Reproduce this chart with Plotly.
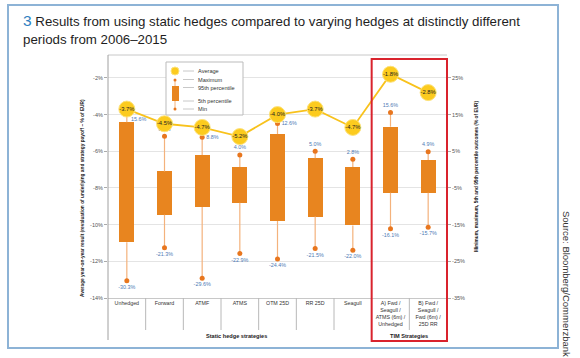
import plotly.graph_objects as go

# ---------------- data ----------------
categories = ["Unhedged", "Forward", "ATMF", "ATMS", "OTM 25D", "RR 25D", "Seagull",
              "A) Fwd /<br>Seagull /<br>ATMS (6m) /<br>Unhedged",
              "B) Fwd /<br>Seagull /<br>Fwd (6m) /<br>25D RR"]
average = [-3.7, -4.5, -4.7, -5.2, -4.0, -3.7, -4.7, -1.8, -2.8]
maximum = [15.6, 9.1, 8.8, 4.0, 12.6, 5.0, 2.8, 15.6, 4.9]
p95 = [12.9, -0.5, 4.0, 0.7, 9.7, 3.1, 0.7, 11.7, 2.6]
p5 = [-19.8, -12.3, -10.2, -9.0, -14.0, -12.8, -15.2, -6.3, -6.3]
minimum = [-30.3, -21.3, -29.6, -22.9, -24.4, -21.5, -22.0, -16.1, -15.7]
left_ticks = [-14, -12, -10, -8, -6, -4, -2]
right_ticks = [-35, -25, -15, -5, 5, 15, 25]
title_lines = ["<span style='color:#2F7FC1;font-size:15.5px'>3</span> Results from using static hedges compared to varying hedges at distinctly different",
               "periods from 2006–2015"]

# ---------------- styles ----------------
FONT = "Liberation Sans, Arial, sans-serif"
ORANGE = "#E8851F"
DOT = "#E8761E"
WHISK = "#F4B27C"
YELLOW = "#FCCB1E"
LABEL = "#4D7AB5"
max_pos = ["bottom right", "top center", "middle right", "top center", "middle right",
           "top center", "top center", "top center", "top center"]

n = len(categories)
xs = list(range(n))

fig = go.Figure()

# 5th-95th percentile boxes
fig.add_trace(go.Bar(
    x=xs, base=p5, y=[a - b for a, b in zip(p95, p5)], width=0.4,
    marker=dict(color=ORANGE, line=dict(width=0)), hoverinfo="skip", showlegend=False,
))

# whiskers
wx, wy = [], []
for i in xs:
    wx += [i, i, None, i, i, None]
    wy += [maximum[i], p95[i], None, p5[i], minimum[i], None]
fig.add_trace(go.Scatter(x=wx, y=wy, mode="lines", line=dict(color=WHISK, width=1.2),
                         hoverinfo="skip", showlegend=False))

# max / min points with labels
fig.add_trace(go.Scatter(
    x=xs, y=maximum, mode="markers+text", marker=dict(color=DOT, size=5),
    text=[f"{v:.1f}%" for v in maximum], textposition=max_pos,
    textfont=dict(family=FONT, size=5.4, color=LABEL), showlegend=False,
))
fig.add_trace(go.Scatter(
    x=xs, y=minimum, mode="markers+text", marker=dict(color=DOT, size=5),
    text=[f"{v:.1f}%" for v in minimum], textposition="bottom center",
    textfont=dict(family=FONT, size=5.4, color=LABEL), showlegend=False,
))

# averages (left axis)
fig.add_trace(go.Scatter(
    x=xs, y=average, yaxis="y2", mode="lines+markers+text",
    line=dict(color="#F8C21C", width=1.8),
    marker=dict(color=YELLOW, size=16, line=dict(color="#FDE27A", width=1)),
    text=[f"{v:.1f}%" for v in average], textposition="middle center",
    textfont=dict(family=FONT, size=5.8, color="#222"), showlegend=False,
))

W, H = 580, 358
L, R, T, B = 108, 133, 55, 60
pw, ph = W - L - R, H - T - B


def px(x):
    return (x - L) / pw


def py(y):
    return (H - B - y) / ph


shapes = []
# outer frame
shapes.append(dict(type="rect", xref="paper", yref="paper", x0=px(8), x1=px(558), y0=py(348), y1=py(5),
                   line=dict(color="#8DB3D6", width=2), layer="below"))
# top border of plot
shapes.append(dict(type="line", xref="paper", yref="paper", x0=0, x1=1, y0=1, y1=1,
                   line=dict(color="#C8C8C8", width=1)))
# left axis line
shapes.append(dict(type="line", xref="paper", yref="paper", x0=0, x1=0, y0=py(340), y1=1,
                   line=dict(color="#A0A0A0", width=1)))
# category separators below the axis
for k in range(1, n):
    if k == 7:
        continue
    shapes.append(dict(type="line", xref="paper", yref="paper", x0=k / n, x1=k / n, y0=py(330), y1=0,
                       line=dict(color="#B8B8B8", width=1)))
# red TIM box
shapes.append(dict(type="rect", xref="paper", yref="paper", x0=7 / n, x1=1.0, y0=py(341), y1=py(59),
                   line=dict(color="#D9232D", width=2)))

# legend (drawn)
shapes.append(dict(type="rect", xref="paper", yref="paper", x0=px(166), x1=px(243), y0=py(115), y1=py(62),
                   line=dict(color="#BBBBBB", width=1), fillcolor="white"))
shapes.append(dict(type="circle", xref="paper", yref="paper", x0=px(171), x1=px(179), y0=py(75), y1=py(67),
                   line=dict(color="#FDE27A", width=1), fillcolor=YELLOW))
shapes.append(dict(type="line", xref="paper", yref="paper", x0=px(175), x1=px(175), y0=py(109), y1=py(80),
                   line=dict(color=WHISK, width=1)))
shapes.append(dict(type="rect", xref="paper", yref="paper", x0=px(172), x1=px(179), y0=py(101), y1=py(86),
                   line=dict(width=0), fillcolor=ORANGE))
for cy in (80, 109):
    shapes.append(dict(type="circle", xref="paper", yref="paper", x0=px(173.5), x1=px(176.5),
                       y0=py(cy + 1.5), y1=py(cy - 1.5), line=dict(width=0), fillcolor=DOT))
leg_items = [("Average", 71), ("Maximum", 79.5), ("95th percentile", 87.5), ("5th percentile", 101), ("Min", 109)]
for _, cy in leg_items:
    shapes.append(dict(type="line", xref="paper", yref="paper", x0=px(183), x1=px(194), y0=py(cy), y1=py(cy),
                       line=dict(color="#C8C8C8", width=1)))

annotations = []
for label, cy in leg_items:
    annotations.append(dict(text=label, xref="paper", yref="paper", x=px(196), y=py(cy), xanchor="left",
                            yanchor="middle", showarrow=False, font=dict(family=FONT, size=5.6, color="#333")))

# title lines
for line, cy in zip(title_lines, (21, 39)):
    annotations.append(dict(text=line, xref="paper", yref="paper", x=px(21), y=py(cy), xanchor="left",
                            yanchor="middle", showarrow=False,
                            font=dict(family=FONT, size=13.3, color="#1E1E1E")))

annotations += [
    dict(text="<b>Average year-on-year result (revaluation of underlying and strategy payoff – % of EUR)</b>",
         xref="paper", yref="paper", x=px(82), y=py(198), textangle=-90, showarrow=False,
         xanchor="center", yanchor="middle", font=dict(family=FONT, size=4.8, color="#222")),
    dict(text="<b>Minimum, maximum, 5th and 95th percentile outcomes (% of EUR)</b>",
         xref="paper", yref="paper", x=px(476), y=py(176), textangle=-90, showarrow=False,
         xanchor="center", yanchor="middle", font=dict(family=FONT, size=4.8, color="#222")),
    dict(text="Source: Bloomberg/Commerzbank", xref="paper", yref="paper", x=px(567), y=py(284),
         textangle=90, showarrow=False, xanchor="center", yanchor="middle",
         font=dict(family=FONT, size=9.5, color="#333")),
    dict(text="<b>Static hedge strategies</b>", xref="paper", yref="paper", x=px(236.5), y=py(336),
         showarrow=False, xanchor="center", yanchor="middle", font=dict(family=FONT, size=5.6, color="#222")),
    dict(text="<b>TIM Strategies</b>", xref="paper", yref="paper", x=px(408.5), y=py(336),
         showarrow=False, xanchor="center", yanchor="middle", font=dict(family=FONT, size=5.6, color="#222")),
]

fig.update_layout(
    width=W, height=H, margin=dict(l=L, r=R, t=T, b=B, autoexpand=False),
    paper_bgcolor="white", plot_bgcolor="white",
    font=dict(family=FONT),
    xaxis=dict(range=[-0.5, n - 0.5], tickvals=xs, ticktext=categories, showgrid=False, zeroline=False,
               showline=True, linecolor="#C8C8C8", ticks="", tickangle=0,
               tickfont=dict(family=FONT, size=5.3, color="#333")),
    yaxis=dict(side="right", range=[-35, 31.25], tickvals=right_ticks,
               ticktext=[f"{v}%" for v in right_ticks], showgrid=True, gridcolor="#E4E4E4", gridwidth=1,
               zeroline=False, ticks="outside", ticklen=3, tickcolor="#AAAAAA",
               tickfont=dict(family=FONT, size=5.5, color="#555")),
    yaxis2=dict(overlaying="y", side="left", range=[-14, -0.75], tickvals=left_ticks,
                ticktext=[f"{v}%" for v in left_ticks], showgrid=False, zeroline=False,
                ticks="outside", ticklen=3, tickcolor="#AAAAAA",
                tickfont=dict(family=FONT, size=5.5, color="#555")),
    shapes=shapes, annotations=annotations, bargap=0,
)

fig.write_html("out.html", config={"displayModeBar": False},
               post_script="document.body.style.margin='0';")
